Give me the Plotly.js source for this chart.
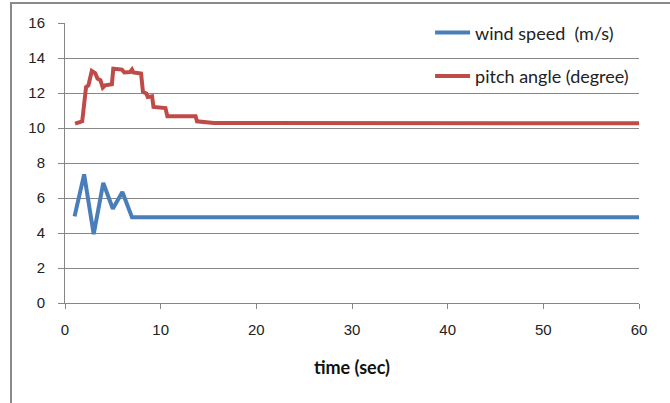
<!DOCTYPE html>
<html>
<head>
<meta charset="utf-8">
<script src="https://cdn.plot.ly/plotly-3.0.1.min.js"></script>
<style>
  html, body { margin: 0; padding: 0; background: #fff; }
  #wrap { position: relative; width: 670px; height: 403px; }
  #chart { position: absolute; left: 0; top: 0; width: 670px; height: 403px; }
  #frame { position: absolute; left: 10px; top: 2px; width: 660px; height: 401px;
           border-left: 2px solid #8a8a8a; border-top: 2px solid #8a8a8a; pointer-events: none; box-sizing: border-box; }
</style>
</head>
<body>
<div id="wrap"><div id="chart"></div><div id="frame"></div></div>
<script>
// Wind speed (m/s)
const windTime  = [1, 2, 3, 4, 5, 6, 7, 60];
const windSpeed = [4.95, 7.35, 3.93, 6.86, 5.39, 6.34, 4.9, 4.9];

// Pitch angle (degree)
const pitchTime  = [1.05, 1.8, 2.2, 2.45, 2.8, 3.15, 3.4, 3.7, 3.95, 4.2, 4.9, 5.05, 5.95, 6.2, 6.8, 7.0, 7.15, 7.95, 8.15, 8.5, 8.65, 9.1, 9.25, 10.5, 10.7, 13.65, 13.8, 15.2, 15.55, 60];
const pitchAngle = [10.25, 10.38, 12.34, 12.44, 13.26, 13.14, 12.82, 12.73, 12.31, 12.44, 12.5, 13.39, 13.34, 13.17, 13.2, 13.34, 13.17, 13.11, 12.06, 11.97, 11.77, 11.81, 11.2, 11.14, 10.67, 10.67, 10.38, 10.34, 10.29, 10.27];

const xTicks = [0, 10, 20, 30, 40, 50, 60];
const yTicks = [0, 2, 4, 6, 8, 10, 12, 14, 16];

const traces = [
  { x: windTime, y: windSpeed, mode: 'lines', name: 'wind speed\u00A0 (m/s)',
    line: { color: '#4a7ebb', width: 4 }, legendgroup: 'a' },
  { x: pitchTime, y: pitchAngle, mode: 'lines', name: 'pitch angle (degree)',
    line: { color: '#be4b48', width: 4 }, legendgroup: 'b' }
];

const layout = {
  width: 670, height: 403, autosize: false,
  margin: { l: 65, r: 31, t: 23, b: 100 },
  paper_bgcolor: '#ffffff', plot_bgcolor: '#ffffff',
  font: { family: 'Liberation Sans, Arial, sans-serif', color: '#222' },
  showlegend: true,
  legend: {
    x: 0.636, y: 1.031, xanchor: 'left', yanchor: 'top',
    bgcolor: 'rgba(0,0,0,0)', traceorder: 'grouped', tracegroupgap: 17,
    itemwidth: 35,
    font: { family: 'Lato, Open Sans, sans-serif', size: 18, color: '#222' }
  },
  xaxis: {
    range: [0, 60], tickvals: xTicks, ticktext: xTicks.map(String),
    showgrid: false, zeroline: false, showline: true, linecolor: '#868686', linewidth: 1,
    ticks: 'outside', ticklen: 5, tickcolor: '#868686',
    tickfont: { family: 'Liberation Sans, Arial, sans-serif', size: 15, color: '#222' },
    ticklabelstandoff: 8,
    title: { text: '<b>time (sec)</b>', font: { family: 'Lato, Open Sans, sans-serif', size: 18, color: '#111' }, standoff: 24 }
  },
  yaxis: {
    range: [0, 16], tickvals: yTicks, ticktext: yTicks.map(String),
    showgrid: true, gridcolor: '#878787', gridwidth: 1, zeroline: false,
    showline: true, linecolor: '#868686', linewidth: 1,
    ticks: 'outside', ticklen: 6, tickcolor: '#868686',
    tickfont: { family: 'Liberation Sans, Arial, sans-serif', size: 15, color: '#222' },
    ticklabelstandoff: 10
  }
};

Plotly.newPlot('chart', traces, layout, { staticPlot: true, displayModeBar: false });
</script>
</body>
</html>
